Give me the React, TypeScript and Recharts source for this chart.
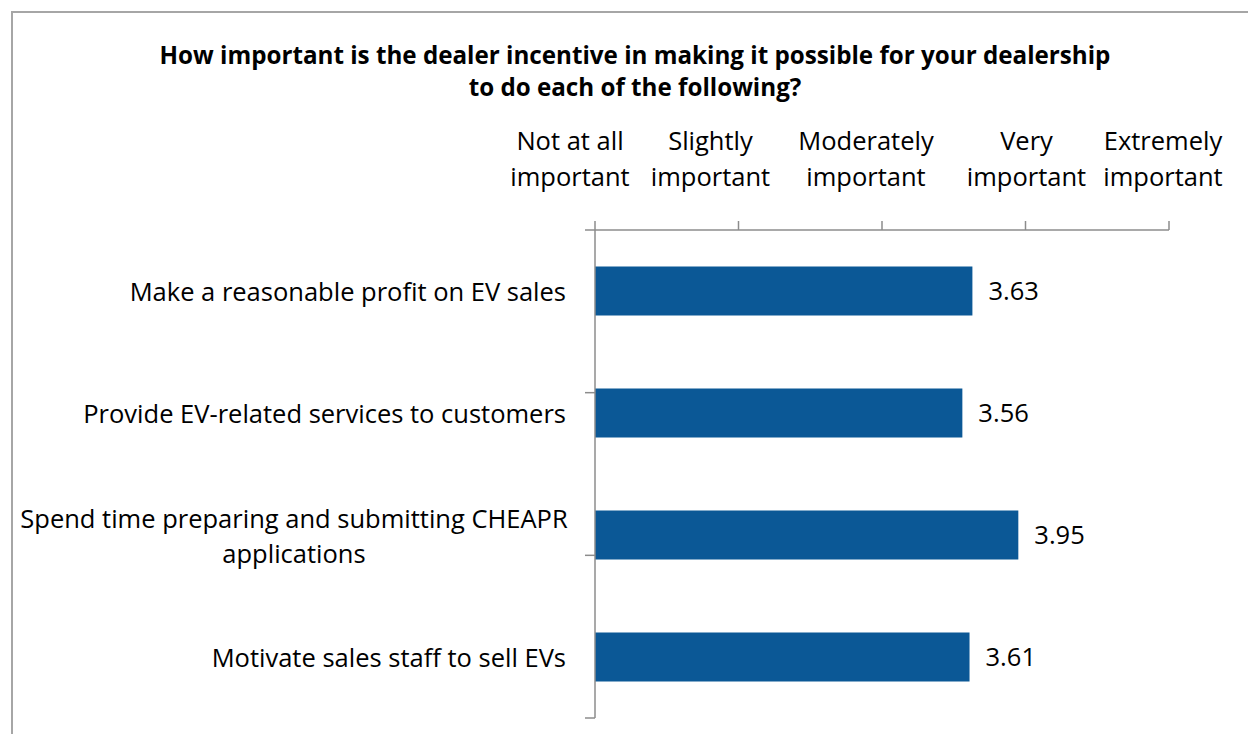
import React from 'react';
import { BarChart, Bar, XAxis, YAxis, LabelList } from 'recharts';

const categories: string[] = [
  'Make a reasonable profit on EV sales',
  'Provide EV-related services to customers',
  'Spend time preparing and submitting CHEAPR\napplications',
  'Motivate sales staff to sell EVs',
];
const scores: number[] = [3.63, 3.56, 3.95, 3.61];
const scaleValues: number[] = [1, 2, 3, 4, 5];
const scaleLabels: string[][] = [
  ['Not at all', 'important'],
  ['Slightly', 'important'],
  ['Moderately', 'important'],
  ['Very', 'important'],
  ['Extremely', 'important'],
];
const titleLines: string[] = [
  'How important is the dealer incentive in making it possible for your dealership',
  'to do each of the following?',
];
const boundaryTicks: number[] = [0, 1, 2, 3, 4];

const data = categories.map((name, i) => ({ name, score: scores[i] }));

const FONT = '"Open Sans", Lato, sans-serif';
const FS = 25.5;
const AXIS_COLOR = '#8c8c8c';
const BAR_COLOR = '#0B5896';
const labelShift: number[] = [-25, -28, -16, 1, -6];

const ScaleTick = (props: any) => {
  const { x, y, payload, index } = props;
  const lines = scaleLabels[index] || [String(payload.value)];
  const cx = x + (labelShift[index] || 0);
  return (
    <g>
      <text x={cx} y={y - 69} textAnchor="middle" fontFamily={FONT} fontSize={FS} fill="#000">
        {lines[0]}
      </text>
      <text x={cx} y={y - 33} textAnchor="middle" fontFamily={FONT} fontSize={FS} fill="#000">
        {lines[1]}
      </text>
    </g>
  );
};

const EmptyTick = () => <g />;

const CategoryTick = (props: any) => {
  const { x, y, payload } = props;
  const lines = String(payload.value).split('\n');
  if (lines.length === 1) {
    return (
      <text x={x} y={y + 10} textAnchor="end" fontFamily={FONT} fontSize={FS} fill="#000">
        {lines[0]}
      </text>
    );
  }
  const lh = 35;
  const startY = y + 10 - ((lines.length - 1) * lh) / 2;
  return (
    <g>
      {lines.map((l, i) => (
        <text key={i} x={x - 272} y={startY + i * lh} textAnchor="middle" fontFamily={FONT} fontSize={FS} fill="#000">
          {l}
        </text>
      ))}
    </g>
  );
};

export default function App() {
  return (
    <div
      style={{
        position: 'absolute',
        left: 0,
        top: 0,
        width: 1248,
        height: 734,
        overflow: 'hidden',
        background: '#fff',
      }}
    >
      <div
        style={{
          position: 'absolute',
          left: 11,
          top: 11,
          width: 1260,
          height: 800,
          border: '2px solid #a6a6a6',
          boxSizing: 'border-box',
        }}
      />
      <div
        style={{
          position: 'absolute',
          left: 0,
          top: 0,
          width: 1248,
          height: 734,
        }}
      >
        <BarChart
          width={1248}
          height={734}
          data={data}
          layout="vertical"
          margin={{ top: 130, right: 79, bottom: 16, left: 14 }}
          barCategoryGap="30%"
        >
          <XAxis
            type="number"
            orientation="top"
            domain={[1, 5]}
            ticks={scaleValues}
            interval={0}
            height={100}
            tickSize={9}
            tickMargin={2}
            stroke={AXIS_COLOR}
            axisLine={{ stroke: AXIS_COLOR, strokeWidth: 1.5 }}
            tickLine={{ stroke: AXIS_COLOR, strokeWidth: 1.5 }}
            tick={<ScaleTick />}
            allowDataOverflow
          />
          <YAxis
            yAxisId="bounds"
            type="number"
            domain={[0, 4]}
            ticks={boundaryTicks}
            interval={0}
            width={1}
            tickSize={10}
            tick={<EmptyTick />}
            stroke={AXIS_COLOR}
            axisLine={{ stroke: AXIS_COLOR, strokeWidth: 1.5 }}
            tickLine={{ stroke: AXIS_COLOR, strokeWidth: 1.5 }}
            allowDataOverflow
          />
          <YAxis
            yAxisId="cat"
            type="category"
            dataKey="name"
            width={580}
            tickSize={0}
            tickMargin={28}
            axisLine={false}
            tickLine={false}
            interval={0}
            tick={<CategoryTick />}
          />
          <Bar dataKey="score" yAxisId="cat" fill={BAR_COLOR} isAnimationActive={false}>
            <LabelList
              dataKey="score"
              position="right"
              offset={16}
              fill="#000"
              fontSize={FS}
              fontFamily={FONT}
              formatter={(v: any) => Number(v).toFixed(2)}
            />
          </Bar>
        </BarChart>
      </div>
      {titleLines.map((t, i) => (
        <div
          key={i}
          style={{
            position: 'absolute',
            left: 0,
            width: 1270,
            top: 41 + i * 32,
            textAlign: 'center',
            fontFamily: FONT,
            fontWeight: 'bold',
            fontSize: 24.2,
            lineHeight: '28px',
            color: '#000',
            whiteSpace: 'nowrap',
          }}
        >
          {t}
        </div>
      ))}
    </div>
  );
}
